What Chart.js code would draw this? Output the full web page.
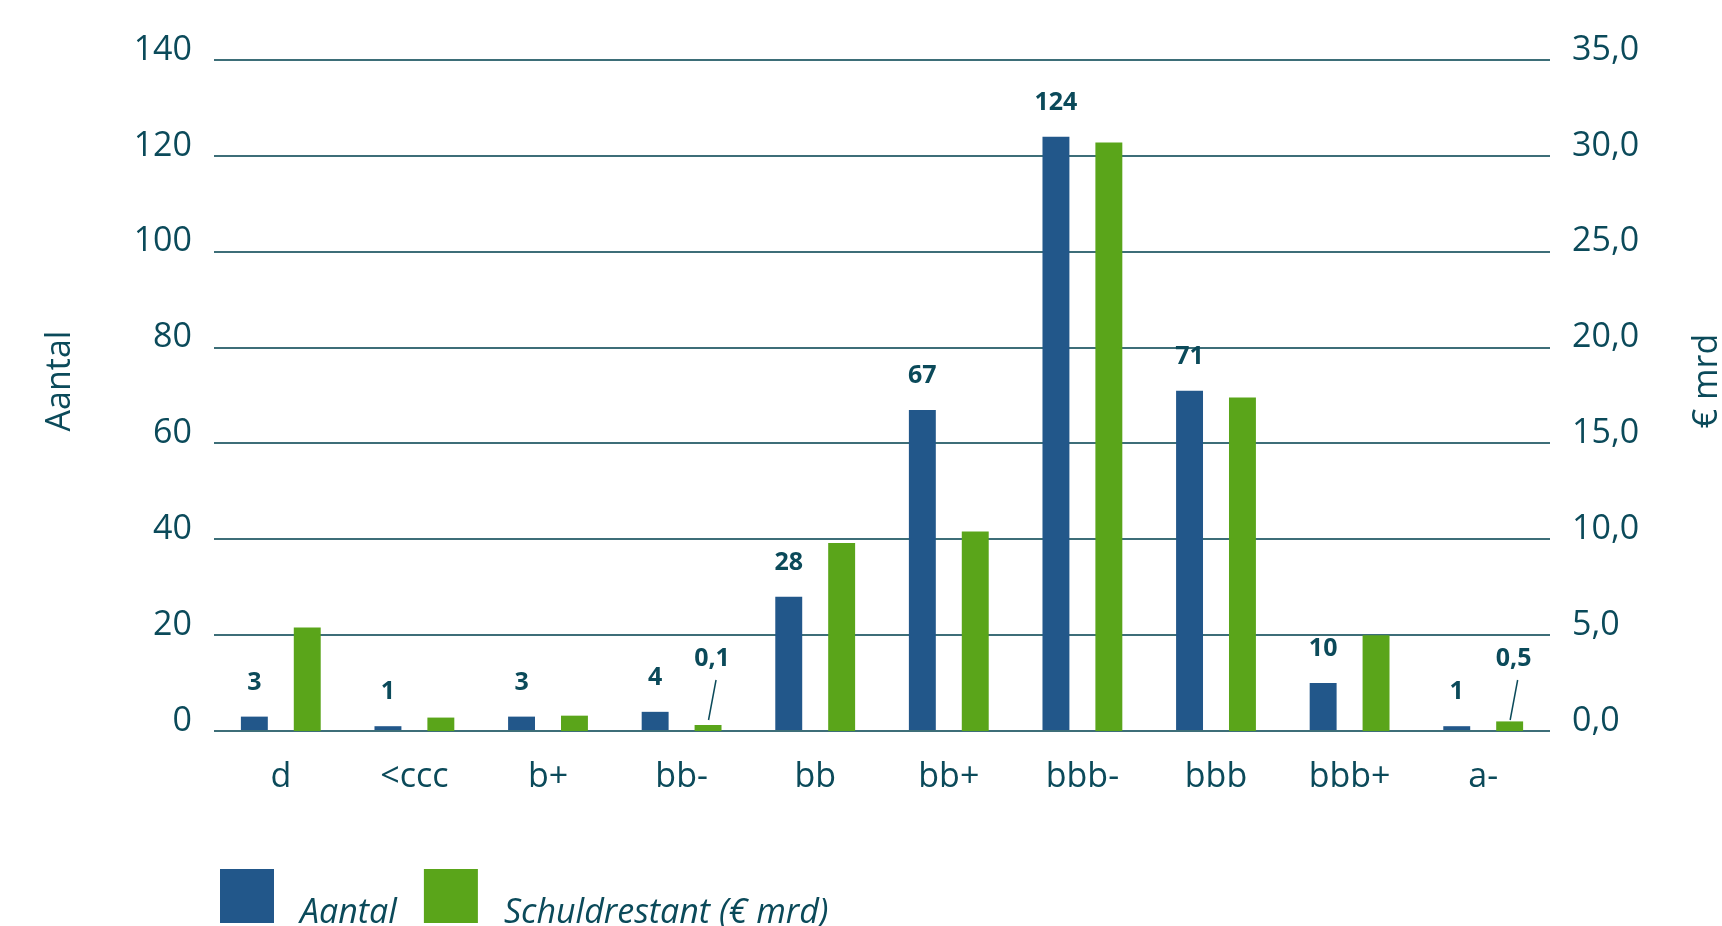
<!DOCTYPE html>
<html>
<head>
<meta charset="utf-8">
<script src="https://cdn.jsdelivr.net/npm/chart.js@4.4.1/dist/chart.umd.min.js"></script>
<style>
  html, body { margin: 0; padding: 0; background: #fff; }
  canvas { display: block; }
</style>
</head>
<body>
<canvas id="chartCanvas" width="1722" height="926"></canvas>
<script>
const categories = ['d', '<ccc', 'b+', 'bb-', 'bb', 'bb+', 'bbb-', 'bbb', 'bbb+', 'a-'];
const aantal = [3, 1, 3, 4, 28, 67, 124, 71, 10, 1];
const schuldrestant = [5.4, 0.7, 0.8, 0.1, 9.8, 10.4, 30.7, 17.4, 5.0, 0.5];
// only these green bars get a value label (with a small leader line)
const schuldLabelled = ['bb-', 'a-'];
const seriesNames = ['Aantal', 'Schuldrestant (€ mrd)'];
const axisTitles = ['Aantal', '€ mrd'];
const leftMax = 140, leftStep = 20;
const rightMax = 35, rightStep = 5;

const textColor = '#0b4a5a';
const gridColor = '#3d6e78';
const blue = '#22578a';
const green = '#5aa51a';

Chart.defaults.font.family = '"Open Sans", sans-serif';
Chart.defaults.color = textColor;

const comma = v => v.toFixed(1).replace('.', ',');

// value labels, axis titles and legend drawn by hand
const extras = {
  id: 'extras',
  afterDatasetsDraw(chart) {
    const ctx = chart.ctx;
    const base = chart.scales.y.getPixelForValue(0);
    ctx.save();
    ctx.fillStyle = textColor;
    ctx.strokeStyle = textColor;
    ctx.font = 'bold 25px "Open Sans"';
    ctx.textAlign = 'center';
    ctx.textBaseline = 'middle';
    chart.getDatasetMeta(0).data.forEach((bar, i) => {
      ctx.fillText(aantal[i], bar.x, bar.y - 34);
    });
    chart.getDatasetMeta(1).data.forEach((bar, i) => {
      if (!schuldLabelled.includes(categories[i])) return;
      ctx.fillText(comma(schuldrestant[i]), bar.x + 4, base - 72);
      ctx.lineWidth = 1.5;
      ctx.beginPath();
      ctx.moveTo(bar.x + 8, base - 51);
      ctx.lineTo(bar.x + 0.5, base - 11);
      ctx.stroke();
    });

    // axis titles, both read bottom to top
    ctx.font = '34px "Open Sans"';
    [[axisTitles[0], 60], [axisTitles[1], 1707]].forEach(([t, x]) => {
      ctx.save();
      ctx.translate(x, 381);
      ctx.rotate(-Math.PI / 2);
      ctx.fillText(t, 0, 0);
      ctx.restore();
    });

    // legend
    ctx.font = 'italic 34px "Open Sans"';
    ctx.textAlign = 'left';
    ctx.textBaseline = 'alphabetic';
    let x = chart.chartArea.left + 6;
    [blue, green].forEach((c, i) => {
      ctx.fillStyle = c;
      ctx.fillRect(x, base + 138, 54, 54);
      x += 54 + 26;
      ctx.fillStyle = textColor;
      ctx.fillText(seriesNames[i], x, base + 192);
      x += ctx.measureText(seriesNames[i]).width + 27;
    });
    ctx.restore();
  }
};

const ctx = document.getElementById('chartCanvas').getContext('2d');
new Chart(ctx, {
  type: 'bar',
  data: {
    labels: categories,
    datasets: [{
      label: seriesNames[0],
      data: aantal,
      backgroundColor: blue,
      yAxisID: 'y',
      categoryPercentage: 0.792,
      barPercentage: 0.509
    }, {
      label: seriesNames[1],
      data: schuldrestant,
      backgroundColor: green,
      yAxisID: 'y1',
      categoryPercentage: 0.792,
      barPercentage: 0.509,
      minBarLength: 6
    }]
  },
  options: {
    responsive: false,
    animation: false,
    layout: { padding: { top: 60, left: 0, right: 0, bottom: 0 } },
    plugins: {
      legend: { display: false },
      tooltip: { enabled: false }
    },
    scales: {
      x: {
        grid: { display: false },
        border: { display: false },
        ticks: { color: textColor, font: { size: 34 }, padding: 18 },
        afterFit(scale) { scale.height = 195; }
      },
      y: {
        position: 'left',
        min: 0,
        max: leftMax,
        ticks: { stepSize: leftStep, color: textColor, font: { size: 34 }, padding: 22, labelOffset: -10 },
        grid: { color: gridColor, lineWidth: 2, drawTicks: false },
        border: { display: false },
        afterFit(scale) { scale.width = 214; }
      },
      y1: {
        position: 'right',
        min: 0,
        max: rightMax,
        ticks: { stepSize: rightStep, color: textColor, font: { size: 34 }, padding: 22, labelOffset: -10, callback: v => comma(v) },
        grid: { display: false, drawTicks: false },
        border: { display: false },
        afterFit(scale) { scale.width = 172; }
      }
    }
  },
  plugins: [extras]
});
</script>
</body>
</html>
